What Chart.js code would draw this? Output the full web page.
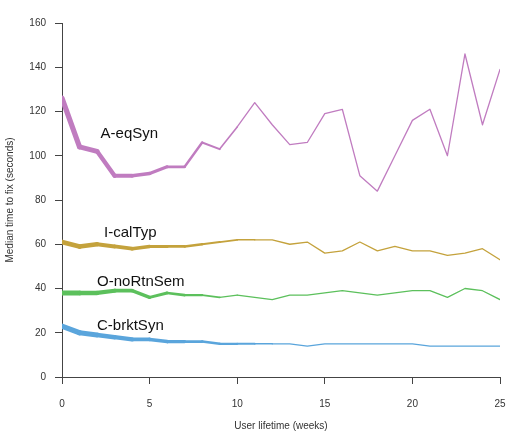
<!DOCTYPE html>
<html>
<head>
<meta charset="utf-8">
<script src="https://cdn.jsdelivr.net/npm/chart.js@4/dist/chart.umd.min.js"></script>
<style>
  html, body { margin: 0; padding: 0; background: #fff; }
  #wrap { width: 509px; height: 432px; }
</style>
</head>
<body>
<div id="wrap"><canvas id="fixChart" width="509" height="432"></canvas></div>
<script>
// ============ DATA ============
const weeks = [0, 1, 2, 3, 4, 5, 6, 7, 8, 9, 10, 11, 12, 13, 14, 15, 16, 17, 18, 19, 20, 21, 22, 23, 24, 25];
const eqSyn = [126, 104, 102, 91, 91, 92, 95, 95, 106, 103, 113, 124, 114, 105, 106, 119, 121, 91, 84, 100, 116, 121, 100, 146, 114, 139];
const calTyp = [61, 59, 60, 59, 58, 59, 59, 59, 60, 61, 62, 62, 62, 60, 61, 56, 57, 61, 57, 59, 57, 57, 55, 56, 58, 53];
const noRtnSem = [38, 38, 38, 39, 39, 36, 38, 37, 37, 36, 37, 36, 35, 37, 37, 38, 39, 38, 37, 38, 39, 39, 36, 40, 39, 35];
const brktSyn = [23, 20, 19, 18, 17, 17, 16, 16, 16, 15, 15, 15, 15, 15, 14, 15, 15, 15, 15, 15, 15, 14, 14, 14, 14, 14];
const seriesNames = ['A-eqSyn', 'I-calTyp', 'O-noRtnSem', 'C-brktSyn'];
// where each name sits, in data units (week, seconds)
const nameWeek = [2.2, 2.4, 2.0, 2.0];
const nameSec = [110, 65, 43, 23];

// ============ STYLE ============
const COLORS = ['#c07cc0', '#c4a23c', '#5cc05c', '#5aa5dc'];
const TAPER = [[5.2, 0.4], [4.8, 0.33], [5, 0.4], [5.2, 0.33]];
const FONT = 'Liberation Sans, Arial, sans-serif';

function taper(k) {
  const [start, rate] = TAPER[k];
  return ctx => Math.max(1.3, start - ctx.p0DataIndex * rate);
}

function makeSet(k, values) {
  return {
    label: seriesNames[k],
    data: weeks.map((w, i) => ({ x: w, y: values[i] })),
    borderColor: COLORS[k],
    borderWidth: 1.3,
    pointRadius: 0,
    tension: 0,
    fill: false,
    segment: { borderWidth: taper(k) },
    borderCapStyle: 'round',
    borderJoinStyle: 'round'
  };
}

// ============ NAME LABELS ============
const nameLabels = {
  id: 'nameLabels',
  afterDatasetsDraw(chart) {
    const { ctx, scales: { x, y } } = chart;
    ctx.save();
    ctx.font = '15px ' + FONT;
    ctx.fillStyle = '#111';
    ctx.textBaseline = 'middle';
    ctx.textAlign = 'left';
    seriesNames.forEach((n, k) => {
      ctx.fillText(n, x.getPixelForValue(nameWeek[k]), y.getPixelForValue(nameSec[k]));
    });
    ctx.restore();
  }
};

// ============ CHART ============
new Chart(document.getElementById('fixChart'), {
  type: 'line',
  data: {
    datasets: [makeSet(0, eqSyn), makeSet(1, calTyp), makeSet(2, noRtnSem), makeSet(3, brktSyn)]
  },
  options: {
    responsive: false,
    animation: false,
    layout: { padding: { top: 23, right: 9, left: 0, bottom: 0 } },
    plugins: { legend: { display: false }, tooltip: { enabled: false } },
    scales: {
      x: {
        type: 'linear',
        min: 0, max: 25,
        afterFit: s => { s.height = 55; s.paddingLeft = 0; s.paddingRight = 0; },
        ticks: { stepSize: 5, color: '#333', font: { family: FONT, size: 10 }, padding: 14, maxRotation: 0 },
        grid: { drawOnChartArea: false, drawTicks: true, tickLength: 7, color: '#444' },
        border: { display: true, color: '#444', width: 1 },
        title: { display: true, text: 'User lifetime (weeks)', color: '#333', font: { family: FONT, size: 10 }, padding: { top: 10, bottom: 0 } }
      },
      y: {
        min: 0, max: 160,
        afterFit: s => { s.width = 62; s.paddingTop = 0; s.paddingBottom = 0; },
        ticks: { stepSize: 20, color: '#333', font: { family: FONT, size: 10 }, padding: 9 },
        grid: { drawOnChartArea: false, drawTicks: true, tickLength: 7, color: '#444' },
        border: { display: true, color: '#444', width: 1 },
        title: { display: true, text: 'Median time to fix (seconds)', color: '#333', font: { family: FONT, size: 10 }, padding: { bottom: 2 } }
      }
    }
  },
  plugins: [nameLabels]
});
</script>
</body>
</html>
